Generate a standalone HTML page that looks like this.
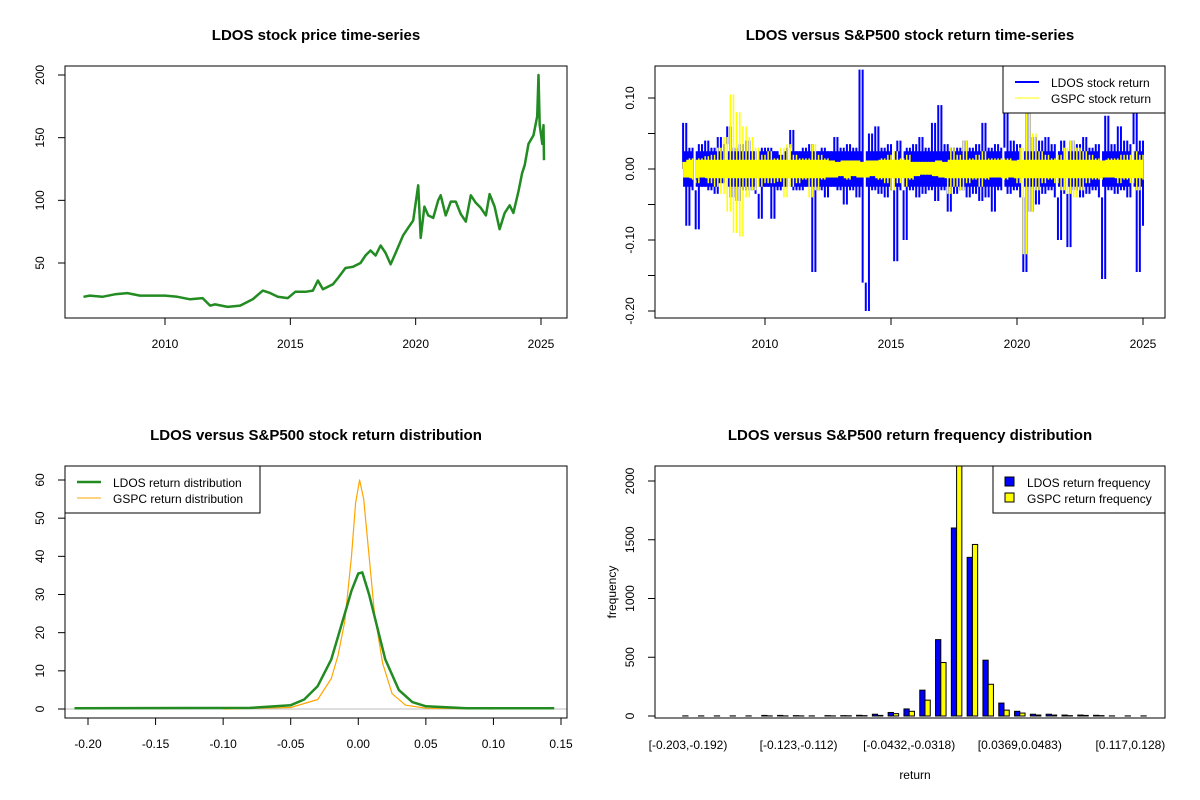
<!DOCTYPE html>
<html><head><meta charset="utf-8"><style>
html,body{margin:0;padding:0;background:#fff;}
svg{display:block;font-family:"Liberation Sans",Arial,sans-serif;}
</style></head><body>
<svg id="c" width="1200" height="800" viewBox="0 0 1200 800"></svg>
<script>
// ---------- data ----------
const priceYears=[2006.75,2007,2007.5,2008,2008.5,2009,2009.5,2010,2010.5,2011,2011.5,2011.8,2012,2012.5,2013,2013.5,2013.9,2014.2,2014.5,2014.9,2015.2,2015.6,2015.9,2016.1,2016.3,2016.7,2016.9,2017.2,2017.5,2017.8,2018.0,2018.2,2018.4,2018.6,2018.8,2019.0,2019.2,2019.5,2019.7,2019.9,2020.1,2020.2,2020.35,2020.5,2020.7,2020.9,2021.0,2021.2,2021.4,2021.6,2021.8,2022.0,2022.2,2022.4,2022.6,2022.8,2022.95,2023.15,2023.35,2023.55,2023.75,2023.9,2024.1,2024.25,2024.35,2024.5,2024.7,2024.85,2024.9,2024.95,2025.05,2025.1,2025.12];
const priceValues=[23,24,23,25,26,24,24,24,23,21,22,16,17,15,16,21,28,26,23,22,27,27,28,36,29,33,38,46,47,50,56,60,56,64,58,49,58,72,78,84,112,70,95,88,86,100,104,88,99,99,89,83,104,98,94,88,105,95,77,90,96,90,107,122,128,145,152,167,200,160,145,160,132];
const priceTicksY=[50,100,150,200];
const yearTicks=[2010,2015,2020,2025];

const retStart=2006.75, retStep=0.125;
const ldosReturns=[0.065,-0.08,0.03,-0.03,-0.085,0.035,-0.025,0.04,-0.03,0.03,
-0.035,0.045,-0.02,0.035,0.06,-0.04,0.03,-0.045,0.035,-0.03,
0.04,-0.03,0.025,-0.035,-0.07,0.03,-0.025,0.03,-0.07,0.025,
-0.03,0.02,-0.025,0.03,0.055,-0.03,0.025,-0.03,0.03,-0.025,
0.035,-0.145,0.025,-0.03,0.03,-0.04,0.025,-0.025,0.045,-0.03,
0.03,-0.05,0.035,-0.03,0.03,-0.04,0.14,-0.16,-0.20,0.05,
-0.03,0.06,-0.035,0.03,-0.04,0.035,-0.03,-0.13,0.04,-0.03,
-0.10,0.03,-0.03,0.035,-0.04,0.045,-0.035,0.03,-0.03,0.065,
-0.045,0.09,-0.03,0.035,-0.06,0.03,-0.035,0.03,-0.03,0.04,
-0.04,0.03,-0.035,0.035,-0.045,0.065,-0.04,0.03,-0.06,0.035,
-0.03,0.03,0.09,-0.035,0.04,-0.03,0.035,-0.04,-0.145,0.09,
-0.06,0.045,-0.05,0.04,-0.035,0.045,-0.03,0.035,-0.04,-0.10,
0.04,-0.035,-0.11,0.04,-0.03,0.035,-0.04,0.045,-0.035,0.03,
-0.03,0.035,-0.04,-0.155,0.075,-0.03,0.035,-0.035,0.06,-0.03,
0.04,-0.04,0.035,0.08,-0.145,0.04,-0.08];
const gspcReturns=[0.01,-0.012,0.015,-0.015,-0.02,0.015,-0.012,0.018,-0.02,0.02,
-0.025,0.03,-0.035,0.045,-0.06,0.105,-0.09,0.08,-0.095,0.06,
-0.04,0.045,-0.03,0.03,-0.025,0.02,-0.02,0.025,-0.02,0.015,
-0.018,0.03,-0.04,0.035,-0.025,0.02,-0.02,0.015,-0.015,0.015,
-0.04,0.035,-0.03,0.02,-0.015,0.015,-0.012,0.012,-0.012,0.01,
-0.01,0.012,-0.015,0.012,-0.01,0.012,-0.012,0.01,-0.012,0.012,
-0.01,0.012,-0.015,0.015,-0.02,0.02,-0.03,0.025,-0.02,0.015,
-0.025,0.02,-0.015,0.01,-0.01,0.01,-0.008,0.01,-0.008,0.01,
-0.01,0.012,-0.012,0.01,-0.035,0.03,-0.025,0.02,-0.03,0.04,
-0.02,0.015,-0.015,0.02,-0.025,0.025,-0.015,0.015,-0.012,0.015,
-0.012,0.015,-0.015,0.015,-0.012,0.012,-0.02,0.03,-0.12,0.09,
-0.06,0.05,-0.03,0.025,-0.02,0.02,-0.015,0.015,-0.02,0.02,
-0.03,0.03,-0.035,0.04,-0.04,0.03,-0.03,0.025,-0.02,0.02,
-0.015,0.015,-0.015,0.012,-0.012,0.015,-0.012,0.015,-0.02,0.02,
-0.015,0.02,-0.02,0.025,-0.03,0.02,-0.015];
const retTicksY=[0.10,0.05,0.00,-0.05,-0.10,-0.15,-0.20];
const retTickLabels=["0.10","","0.00","","-0.10","","-0.20"];

const densLdosX=[-0.21,-0.08,-0.05,-0.04,-0.03,-0.02,-0.01,-0.005,0,0.003,0.008,0.015,0.02,0.03,0.04,0.05,0.08,0.145];
const densLdosY=[0.2,0.3,1.0,2.5,6,13,25,31,35.5,35.8,30,20,13,5,1.8,0.7,0.2,0.2];
const densGspcX=[-0.10,-0.05,-0.03,-0.02,-0.015,-0.01,-0.005,-0.002,0.001,0.004,0.008,0.012,0.018,0.025,0.035,0.05,0.10];
const densGspcY=[0,0.4,2.5,8,14,23,40,54,60,55,40,25,12,4,1,0.2,0];
const densTicksX=[-0.20,-0.15,-0.10,-0.05,0.00,0.05,0.10,0.15];
const densTickLabelsX=["-0.20","-0.15","-0.10","-0.05","0.00","0.05","0.10","0.15"];
const densTicksY=[0,10,20,30,40,50,60];

const histLdos=[1,1,1,1,1,5,5,3,1,3,3,6,15,30,60,220,650,1600,1350,475,110,40,15,15,8,8,6,1,1,1];
const histGspc=[0,0,0,0,0,1,1,1,0,1,2,3,5,20,40,135,455,2200,1460,270,50,25,8,8,3,5,3,0,0,0];
const histLabelIdx=[0,7,14,21,28];
const histLabels=["[-0.203,-0.192)","[-0.123,-0.112)","[-0.0432,-0.0318)","[0.0369,0.0483)","[0.117,0.128)"];
const histTicksY=[0,500,1000,1500,2000];

// ---------- helpers ----------
const svg=document.getElementById('c');
const NS='http://www.w3.org/2000/svg';
function mk(tag,attrs,parent){const e=document.createElementNS(NS,tag);for(const k in attrs)e.setAttribute(k,attrs[k]);(parent||svg).appendChild(e);return e;}
function txt(x,y,s,size,opts,parent){const t=mk('text',Object.assign({x:x,y:y,'font-size':size,'text-anchor':'middle',fill:'#000'},opts||{}),parent);t.textContent=s;return t;}
function lin(a,b,c,d){return v=>c+(v-a)*(d-c)/(b-a);}

function panel(name,L,T,R,B,title){
  const g=mk('g',{});
  
  
  const t=txt((L+R)/2,T-26,title,15,{'font-weight':'bold'},g);
  
  
  return g;
}
function frame(g,L,T,R,B){const r=mk('rect',{x:L,y:T,width:R-L,height:B-T,fill:'none',stroke:'#000','stroke-width':1},g);
  }
function yaxis(g,L,ticks,labels,sy){
  const ax=mk('g',{},g);
  ticks.forEach((v,i)=>{const y=sy(v);mk('line',{x1:L,x2:L-7,y1:y,y2:y,stroke:'#000'},ax);
    if(labels[i]!==''){txt(0,0,labels[i],12,{transform:`translate(${L-21},${y}) rotate(-90)`},ax);}});
}
function xaxis(g,B,ticks,labels,sx,fs){
  const ax=mk('g',{},g);
  ticks.forEach((v,i)=>{const x=sx(v);mk('line',{x1:x,x2:x,y1:B,y2:B+7,stroke:'#000'},ax);
    txt(x,B+30,labels[i],fs||12,{},ax);});
}
function poly(g,xs,ys,sx,sy,color,w,name){
  const p=mk('polyline',{points:xs.map((x,i)=>sx(x).toFixed(1)+','+sy(ys[i]).toFixed(1)).join(' '),fill:'none',stroke:color,'stroke-width':w,'stroke-linejoin':'round'},g);
  return p;
}
// dense-series look: a clamped core band plus thin full-height spikes
function band(g,xs,ys,sx,sy,color,name,core,lw){
  const bg=mk('g',{fill:color,stroke:color},g);
  
  const cl=v=>Math.max(-core,Math.min(core,v));
  for(let i=1;i<ys.length;i++){
    const x0=sx(xs[i-1]),x1=sx(xs[i]);
    const ya=sy(cl(ys[i-1])),yb=sy(cl(ys[i]));
    mk('rect',{x:x0,y:Math.min(ya,yb),width:x1-x0+0.3,height:Math.abs(yb-ya),stroke:'none'},bg);
  }
  for(let i=0;i<ys.length;i++){
    const x=sx(xs[i]);
    const prev=i>0?ys[i-1]:0;
    mk('line',{x1:x,x2:x,y1:sy(prev),y2:sy(ys[i]),'stroke-width':lw,fill:'none'},bg);
  }
}
function legend(g,x,y,w,h,items,kind){
  const lg=mk('g',{},g);
  mk('rect',{x:x,y:y,width:w,height:h,fill:'#fff',stroke:'#000'},lg);
  items.forEach((it,i)=>{const yy=y+16+i*16;
    const e=mk('g',{},lg);
    if(kind==='box'){mk('rect',{x:x+12,y:yy-5,width:9,height:9,fill:it.c,stroke:'#000'},e);txt(x+34,yy+5,it.t,12,{'text-anchor':'start'},e);}
    else{mk('line',{x1:x+12,x2:x+36,y1:yy,y2:yy,stroke:it.c,'stroke-width':it.w},e);txt(x+48,yy+5,it.t,12,{'text-anchor':'start'},e);}
  });
}

// ---------- panel 1: price ----------
(function(){
  const L=65,T=66,R=567,B=318;
  const g=panel('price-panel',L,T,R,B,'LDOS stock price time-series');
  const sx=lin(2010,2025,165,541), sy=lin(50,200,263,75);
  poly(g,priceYears,priceValues,sx,sy,'#228B22',2.5,'price-line');
  frame(g,L,T,R,B);
  yaxis(g,L,priceTicksY,priceTicksY.map(String),sy);
  xaxis(g,B,yearTicks,yearTicks.map(String),sx);
})();

// ---------- panel 2: returns ----------
(function(){
  const L=655,T=66,R=1165,B=318;
  const g=panel('returns-panel',L,T,R,B,'LDOS versus S&P500 stock return time-series');
  const sx=lin(2010,2025,765,1143), sy=lin(0,-0.2,169,311);
  const xs=ldosReturns.map((_,i)=>retStart+i*retStep);
  const clip=mk('clipPath',{id:'cp2'},g);mk('rect',{x:L,y:T,width:R-L,height:B-T},clip);
  const inner=mk('g',{'clip-path':'url(#cp2)'},g);
  band(inner,xs,ldosReturns,sx,sy,'#0000FF','ldos-return-line',0.025,2);
  band(inner,xs,gspcReturns,sx,sy,'#FFFF00','gspc-return-line',0.013,1.5);
  frame(g,L,T,R,B);
  yaxis(g,L,retTicksY,retTickLabels,sy);
  xaxis(g,B,yearTicks,yearTicks.map(String),sx);
  legend(g,1003,66,162,47,[{t:'LDOS stock return',c:'#0000FF',w:2},{t:'GSPC stock return',c:'#FFFF00',w:1}],'line');
})();

// ---------- panel 3: density ----------
(function(){
  const L=65,T=466,R=567,B=718;
  const g=panel('density-panel',L,T,R,B,'LDOS versus S&P500 stock return distribution');
  const sx=lin(-0.2,0.15,88,561), sy=lin(0,60,709,480);
  const base=mk('line',{x1:L,x2:R,y1:sy(0),y2:sy(0),stroke:'#BEBEBE'},g);
  
  poly(g,densGspcX,densGspcY,sx,sy,'#FFA500',1.2,'gspc-density-line');
  poly(g,densLdosX,densLdosY,sx,sy,'#228B22',2.5,'ldos-density-line');
  frame(g,L,T,R,B);
  yaxis(g,L,densTicksY,densTicksY.map(String),sy);
  xaxis(g,B,densTicksX,densTickLabelsX,sx);
  legend(g,65,466,195,47,[{t:'LDOS return distribution',c:'#228B22',w:2.5},{t:'GSPC return distribution',c:'#FFA500',w:1}],'line');
})();

// ---------- panel 4: histogram ----------
(function(){
  const L=655,T=466,R=1165,B=718;
  const g=panel('histogram-panel',L,T,R,B,'LDOS versus S&P500 return frequency distribution');
  const gc=i=>688+i*15.8, bw=5.25;
  const sy=lin(0,2000,716,481);
  const clip=mk('clipPath',{id:'cp4'},g);mk('rect',{x:L,y:T,width:R-L,height:B-T},clip);
  const inner=mk('g',{'clip-path':'url(#cp4)'},g);
  histLdos.forEach((v,i)=>{
    const r=mk('rect',{x:gc(i)-bw,y:sy(v),width:bw,height:Math.max(0,sy(0)-sy(v)),fill:'#0000FF',stroke:'#000','stroke-width':1},inner);
    
    const v2=histGspc[i];
    const r2=mk('rect',{x:gc(i),y:sy(v2),width:bw,height:Math.max(0,sy(0)-sy(v2)),fill:'#FFFF00',stroke:'#000','stroke-width':1},inner);
    
  });
  frame(g,L,T,R,B);
  yaxis(g,L,histTicksY,histTicksY.map(String),sy);
  const xl=mk('g',{},g);
  histLabelIdx.forEach((idx,k)=>txt(gc(idx),B+31,histLabels[k],12,{},xl));
  const xt=txt(915,779,'return',12,{},g);
  const yt=txt(0,0,'frequency',12,{transform:'translate(616,592) rotate(-90)'},g);
  legend(g,993,466,172,47,[{t:'LDOS return frequency',c:'#0000FF'},{t:'GSPC return frequency',c:'#FFFF00'}],'box');
})();
</script>
</body></html>
